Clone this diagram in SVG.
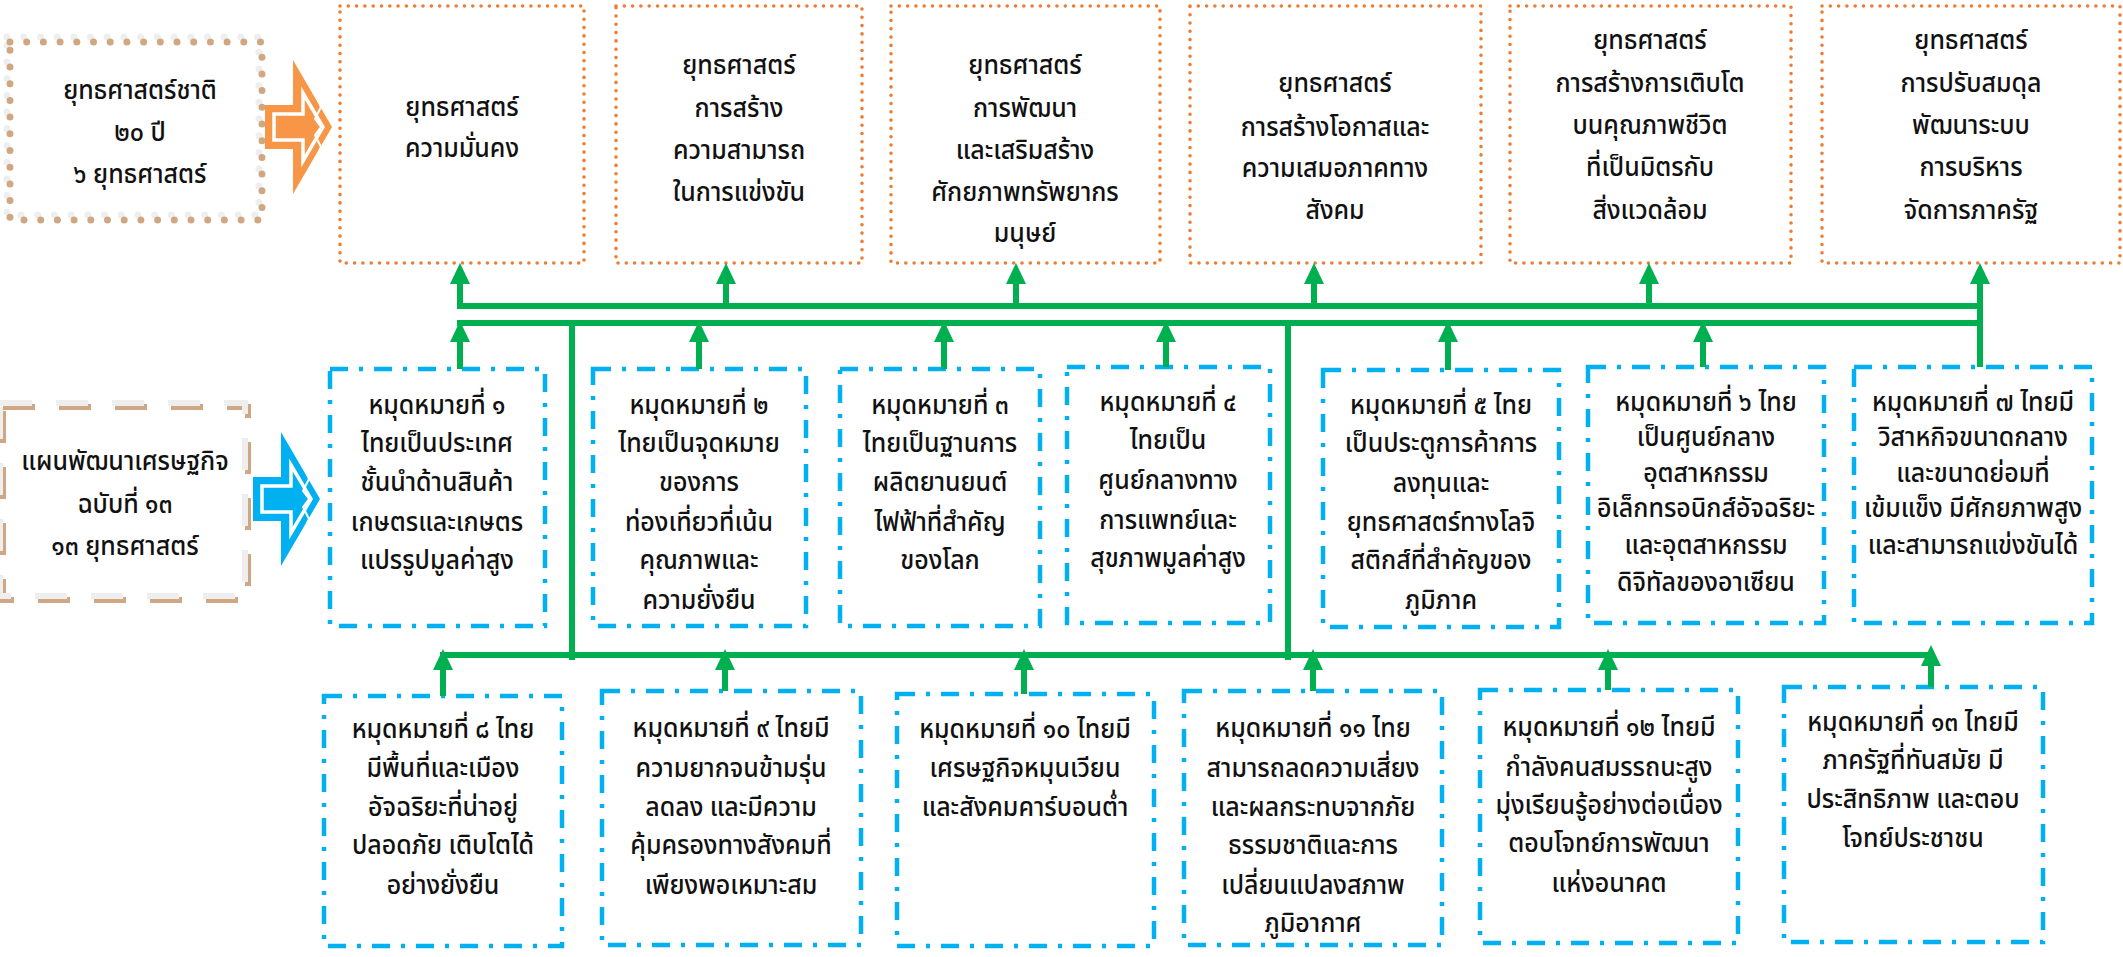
<svg xmlns="http://www.w3.org/2000/svg" width="2123" height="957" viewBox="0 0 2123 957">
<style>
.t{font-family:"Noto Sans Thai","Noto Sans Thai Looped","Noto Sans",sans-serif;font-size:26px;font-weight:500;fill:#111;text-anchor:middle}
.ob{fill:none;stroke:#ED7D31;stroke-width:3.6;stroke-dasharray:0 8.3;stroke-linecap:round}
.bb{fill:none;stroke:#00B0F0;stroke-width:4.5;stroke-dasharray:18 11 4 11}
.g{fill:none;stroke:#00B050;stroke-width:6}
.ga{fill:none;stroke:#00B050;stroke-width:6;marker-end:url(#ah)}
</style>
<defs>
<marker id="ah" markerUnits="userSpaceOnUse" markerWidth="22" markerHeight="22" refX="0" refY="10" orient="auto" overflow="visible">
<path d="M0,0 L21,10 L0,20 Z" fill="#00B050"/>
</marker>
<g id="fat">
<polygon points="0,-22 28,-22 28,-67 67,0 28,67 28,22 0,22"/>
<polygon points="9,-13 38,-13 38,-34 58,0 38,34 38,13 9,13" stroke="#fff" stroke-width="3.5"/>
<polyline points="50,-34 56,-20 50,-8 56,0 50,8 56,20 50,34" fill="none" stroke="#fff" stroke-width="2"/>
</g>
</defs>
<rect width="2123" height="957" fill="#fff"/>

<g id="national-strategy">
<rect x="7" y="37" width="252" height="178" fill="none" stroke="#EEEEEE" stroke-width="7" stroke-dasharray="0 16.7" stroke-linecap="round"/>
<rect x="10" y="42" width="252" height="178" fill="none" stroke="#CFA883" stroke-width="7" stroke-dasharray="0 16.7" stroke-linecap="round"/>
<text class="t" transform="scale(0.96 1)"><tspan x="145.83" y="99">ยุทธศาสตร์ชาติ</tspan><tspan x="145.83" y="141">๒๐  ปี</tspan><tspan x="145.83" y="183">๖ ยุทธศาสตร์</tspan></text>
</g>
<g id="arrow-orange"><use href="#fat" transform="translate(265,127)" fill="#F79646"/></g>

<g id="plan13">
<rect x="3" y="407" width="245" height="193" fill="none" stroke="#CFA883" stroke-width="6" stroke-dasharray="32 24"/>
<rect x="0" y="403" width="245" height="193" fill="none" stroke="#EEEEEE" stroke-width="6" stroke-dasharray="32 24"/>
<text class="t" transform="scale(0.96 1)"><tspan x="130.21" y="470">แผนพัฒนาเศรษฐกิจ</tspan><tspan x="130.21" y="513">ฉบับที่ ๑๓</tspan><tspan x="130.21" y="555">๑๓ ยุทธศาสตร์</tspan></text>
</g>
<g id="arrow-blue"><use href="#fat" transform="translate(253,499)" fill="#00B0F0"/></g>

<g id="s1"><rect class="ob" x="340" y="6" width="244" height="257"/>
<text class="t" transform="scale(0.96 1)"><tspan x="481.25" y="116">ยุทธศาสตร์</tspan><tspan x="481.25" y="157">ความมั่นคง</tspan></text></g>
<g id="s2"><rect class="ob" x="616" y="6" width="246" height="257"/>
<text class="t" transform="scale(0.96 1)"><tspan x="769.79" y="74">ยุทธศาสตร์</tspan><tspan x="769.79" y="117">การสร้าง</tspan><tspan x="769.79" y="159">ความสามารถ</tspan><tspan x="769.79" y="201">ในการแข่งขัน</tspan></text></g>
<g id="s3"><rect class="ob" x="891" y="6" width="269" height="257"/>
<text class="t" transform="scale(0.96 1)"><tspan x="1067.71" y="74">ยุทธศาสตร์</tspan><tspan x="1067.71" y="117">การพัฒนา</tspan><tspan x="1067.71" y="159">และเสริมสร้าง</tspan><tspan x="1067.71" y="201">ศักยภาพทรัพยากร</tspan><tspan x="1067.71" y="242">มนุษย์</tspan></text></g>
<g id="s4"><rect class="ob" x="1190" y="6" width="291" height="257"/>
<text class="t" transform="scale(0.96 1)"><tspan x="1390.63" y="92">ยุทธศาสตร์</tspan><tspan x="1390.63" y="136">การสร้างโอกาสและ</tspan><tspan x="1390.63" y="177">ความเสมอภาคทาง</tspan><tspan x="1390.63" y="219">สังคม</tspan></text></g>
<g id="s5"><rect class="ob" x="1510" y="6" width="281" height="257"/>
<text class="t" transform="scale(0.96 1)"><tspan x="1718.75" y="49">ยุทธศาสตร์</tspan><tspan x="1718.75" y="92">การสร้างการเติบโต</tspan><tspan x="1718.75" y="134">บนคุณภาพชีวิต</tspan><tspan x="1718.75" y="176">ที่เป็นมิตรกับ</tspan><tspan x="1718.75" y="219">สิ่งแวดล้อม</tspan></text></g>
<g id="s6"><rect class="ob" x="1822" y="6" width="298" height="257"/>
<text class="t" transform="scale(0.96 1)"><tspan x="2053.13" y="49">ยุทธศาสตร์</tspan><tspan x="2053.13" y="92">การปรับสมดุล</tspan><tspan x="2053.13" y="134">พัฒนาระบบ</tspan><tspan x="2053.13" y="176">การบริหาร</tspan><tspan x="2053.13" y="219">จัดการภาครัฐ</tspan></text></g>

<g id="m1"><rect class="bb" x="330" y="369" width="215" height="257"/>
<text class="t" transform="scale(0.96 1)"><tspan x="455.21" y="414">หมุดหมายที่ ๑</tspan><tspan x="455.21" y="452">ไทยเป็นประเทศ</tspan><tspan x="455.21" y="491">ชั้นนำด้านสินค้า</tspan><tspan x="455.21" y="531">เกษตรและเกษตร</tspan><tspan x="455.21" y="569">แปรรูปมูลค่าสูง</tspan></text></g>
<g id="m2"><rect class="bb" x="593" y="369" width="213" height="257"/>
<text class="t" transform="scale(0.96 1)"><tspan x="728.13" y="414">หมุดหมายที่ ๒</tspan><tspan x="728.13" y="452">ไทยเป็นจุดหมาย</tspan><tspan x="728.13" y="491">ของการ</tspan><tspan x="728.13" y="531">ท่องเที่ยวที่เน้น</tspan><tspan x="728.13" y="569">คุณภาพและ</tspan><tspan x="728.13" y="609">ความยั่งยืน</tspan></text></g>
<g id="m3"><rect class="bb" x="840" y="369" width="200" height="257"/>
<text class="t" transform="scale(0.96 1)"><tspan x="979.17" y="414">หมุดหมายที่ ๓</tspan><tspan x="979.17" y="452">ไทยเป็นฐานการ</tspan><tspan x="979.17" y="491">ผลิตยานยนต์</tspan><tspan x="979.17" y="531">ไฟฟ้าที่สำคัญ</tspan><tspan x="979.17" y="569">ของโลก</tspan></text></g>
<g id="m4"><rect class="bb" x="1067" y="367" width="203" height="256"/>
<text class="t" transform="scale(0.96 1)"><tspan x="1216.67" y="411">หมุดหมายที่ ๔</tspan><tspan x="1216.67" y="449">ไทยเป็น</tspan><tspan x="1216.67" y="489">ศูนย์กลางทาง</tspan><tspan x="1216.67" y="529">การแพทย์และ</tspan><tspan x="1216.67" y="567">สุขภาพมูลค่าสูง</tspan></text></g>
<g id="m5"><rect class="bb" x="1323" y="370" width="236" height="257"/>
<text class="t" transform="scale(0.96 1)"><tspan x="1501.04" y="414">หมุดหมายที่ ๕ ไทย</tspan><tspan x="1501.04" y="452">เป็นประตูการค้าการ</tspan><tspan x="1501.04" y="492">ลงทุนและ</tspan><tspan x="1501.04" y="531">ยุทธศาสตร์ทางโลจิ</tspan><tspan x="1501.04" y="569">สติกส์ที่สำคัญของ</tspan><tspan x="1501.04" y="609">ภูมิภาค</tspan></text></g>
<g id="m6"><rect class="bb" x="1588" y="367" width="236" height="256"/>
<text class="t" transform="scale(0.96 1)"><tspan x="1777.08" y="411">หมุดหมายที่ ๖ ไทย</tspan><tspan x="1777.08" y="446">เป็นศูนย์กลาง</tspan><tspan x="1777.08" y="482">อุตสาหกรรม</tspan><tspan x="1777.08" y="517">อิเล็กทรอนิกส์อัจฉริยะ</tspan><tspan x="1777.08" y="554">และอุตสาหกรรม</tspan><tspan x="1777.08" y="591">ดิจิทัลของอาเซียน</tspan></text></g>
<g id="m7"><rect class="bb" x="1854" y="367" width="238" height="256"/>
<text class="t" transform="scale(0.96 1)"><tspan x="2055.21" y="411">หมุดหมายที่ ๗ ไทยมี</tspan><tspan x="2055.21" y="446">วิสาหกิจขนาดกลาง</tspan><tspan x="2055.21" y="482">และขนาดย่อมที่</tspan><tspan x="2055.21" y="517">เข้มแข็ง มีศักยภาพสูง</tspan><tspan x="2055.21" y="554">และสามารถแข่งขันได้</tspan></text></g>

<g id="b8"><rect class="bb" x="324" y="696" width="238" height="250"/>
<text class="t" transform="scale(0.96 1)"><tspan x="461.46" y="738">หมุดหมายที่ ๘ ไทย</tspan><tspan x="461.46" y="777">มีพื้นที่และเมือง</tspan><tspan x="461.46" y="816">อัจฉริยะที่น่าอยู่</tspan><tspan x="461.46" y="854">ปลอดภัย เติบโตได้</tspan><tspan x="461.46" y="894">อย่างยั่งยืน</tspan></text></g>
<g id="b9"><rect class="bb" x="602" y="691" width="259" height="254"/>
<text class="t" transform="scale(0.96 1)"><tspan x="761.46" y="737">หมุดหมายที่ ๙ ไทยมี</tspan><tspan x="761.46" y="777">ความยากจนข้ามรุ่น</tspan><tspan x="761.46" y="816">ลดลง และมีความ</tspan><tspan x="761.46" y="854">คุ้มครองทางสังคมที่</tspan><tspan x="761.46" y="894">เพียงพอเหมาะสม</tspan></text></g>
<g id="b10"><rect class="bb" x="897" y="694" width="257" height="252"/>
<text class="t" transform="scale(0.96 1)"><tspan x="1067.71" y="738">หมุดหมายที่ ๑๐ ไทยมี</tspan><tspan x="1067.71" y="777">เศรษฐกิจหมุนเวียน</tspan><tspan x="1067.71" y="816">และสังคมคาร์บอนต่ำ</tspan></text></g>
<g id="b11"><rect class="bb" x="1184" y="691" width="258" height="254"/>
<text class="t" transform="scale(0.96 1)"><tspan x="1367.71" y="737">หมุดหมายที่ ๑๑ ไทย</tspan><tspan x="1367.71" y="777">สามารถลดความเสี่ยง</tspan><tspan x="1367.71" y="816">และผลกระทบจากภัย</tspan><tspan x="1367.71" y="854">ธรรมชาติและการ</tspan><tspan x="1367.71" y="894">เปลี่ยนแปลงสภาพ</tspan><tspan x="1367.71" y="932">ภูมิอากาศ</tspan></text></g>
<g id="b12"><rect class="bb" x="1480" y="690" width="258" height="253"/>
<text class="t" transform="scale(0.96 1)"><tspan x="1676.04" y="736">หมุดหมายที่ ๑๒ ไทยมี</tspan><tspan x="1676.04" y="776">กำลังคนสมรรถนะสูง</tspan><tspan x="1676.04" y="814">มุ่งเรียนรู้อย่างต่อเนื่อง</tspan><tspan x="1676.04" y="852">ตอบโจทย์การพัฒนา</tspan><tspan x="1676.04" y="892">แห่งอนาคต</tspan></text></g>
<g id="b13"><rect class="bb" x="1784" y="687" width="259" height="255"/>
<text class="t" transform="scale(0.96 1)"><tspan x="1992.71" y="731">หมุดหมายที่ ๑๓ ไทยมี</tspan><tspan x="1992.71" y="769">ภาครัฐที่ทันสมัย มี</tspan><tspan x="1992.71" y="808">ประสิทธิภาพ และตอบ</tspan><tspan x="1992.71" y="847">โจทย์ประชาชน</tspan></text></g>

<g id="connectors">
<path class="g" d="M457 306 H1983 M457 323 H1983 M572 320 V660 M1288 320 V660 M440 655 H1934"/>
<path class="ga" d="M460 306 V284"/>
<path class="ga" d="M726 306 V284"/>
<path class="ga" d="M1016 306 V284"/>
<path class="ga" d="M1314 306 V284"/>
<path class="ga" d="M1649 306 V284"/>
<path class="ga" d="M1980 367 V284"/>
<path class="ga" d="M460 369 V342"/>
<path class="ga" d="M699 369 V342"/>
<path class="ga" d="M944 369 V342"/>
<path class="ga" d="M1166 367 V342"/>
<path class="ga" d="M1448 370 V342"/>
<path class="ga" d="M1703 367 V342"/>
<path class="ga" d="M443 696 V670"/>
<path class="ga" d="M725 691 V670"/>
<path class="ga" d="M1024 694 V670"/>
<path class="ga" d="M1313 691 V670"/>
<path class="ga" d="M1608 690 V670"/>
<path class="ga" d="M1931 687 V666"/>
</g>
</svg>
